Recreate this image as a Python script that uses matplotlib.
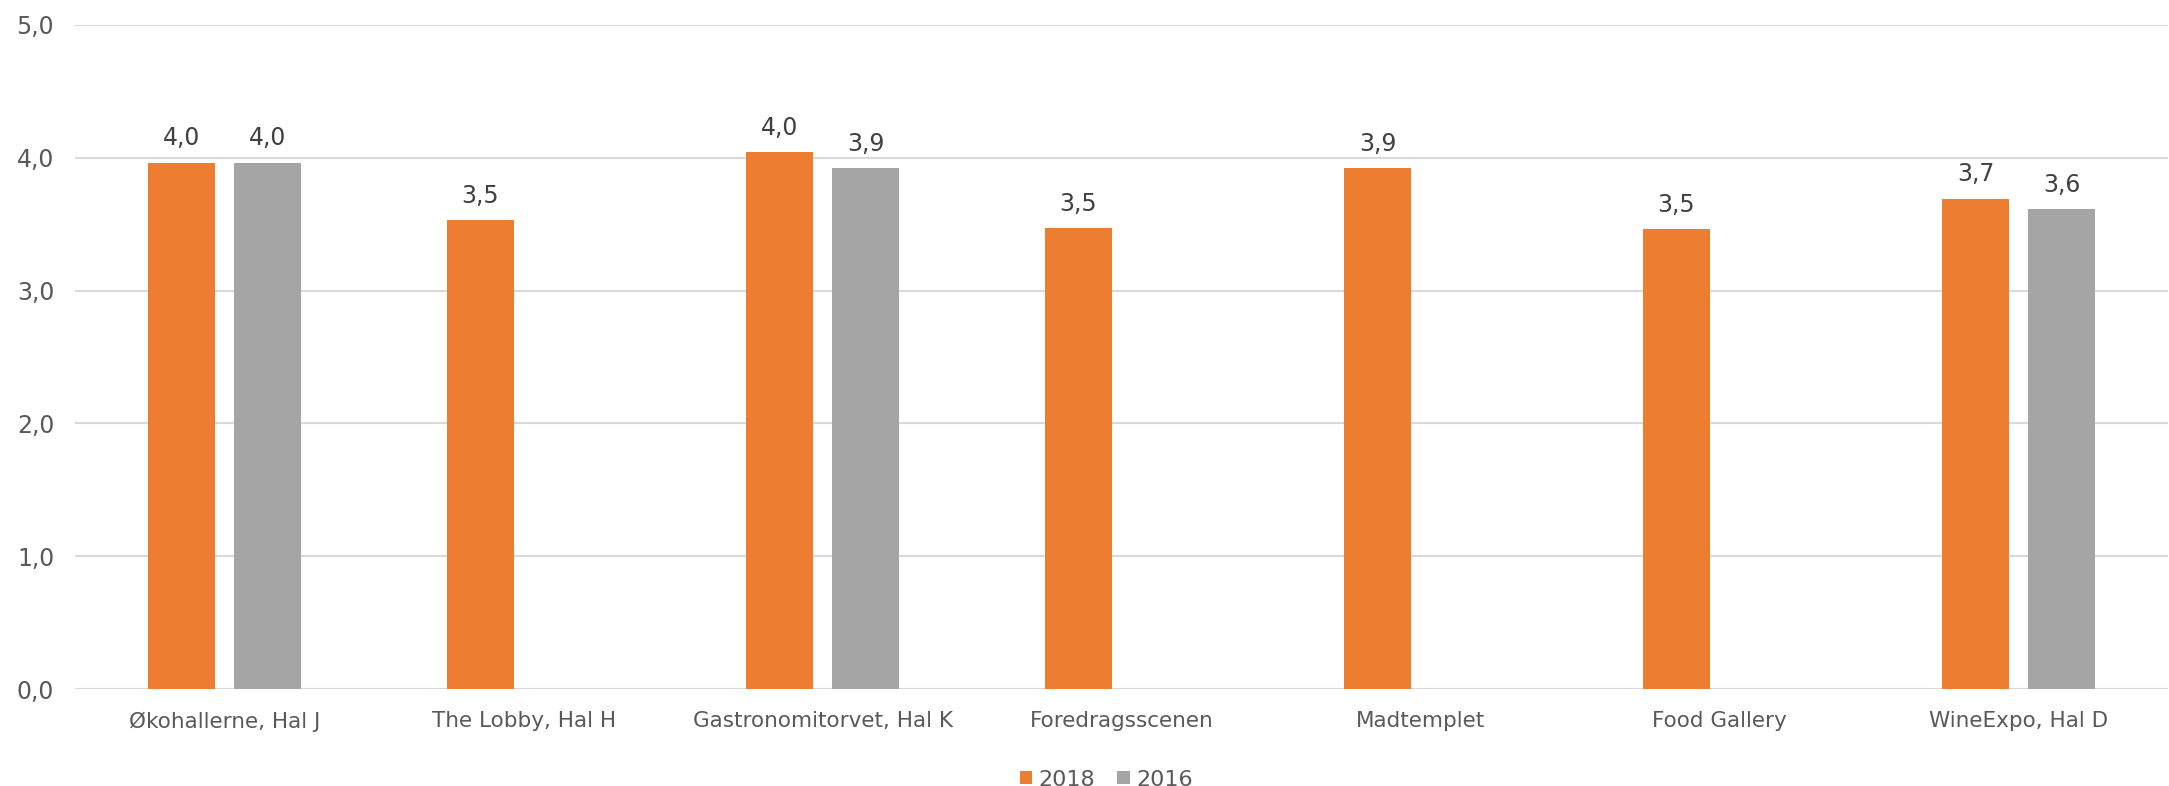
import matplotlib.pyplot as plt
import numpy as np

categories = ['Økohallerne, Hal J', 'The Lobby, Hal H', 'Gastronomitorvet, Hal K',
              'Foredragsscenen', 'Madtemplet', 'Food Gallery', 'WineExpo, Hal D']
v2018 = [3.96, 3.53, 4.04, 3.47, 3.92, 3.46, 3.69]
v2016 = [3.96, np.nan, 3.92, np.nan, np.nan, np.nan, 3.61]
yticks = [0, 1, 2, 3, 4, 5]

orange = '#ED7D31'
grey = '#A5A5A5'
txt = '#595959'

plt.rcParams['font.family'] = ['DejaVu Sans']

fig = plt.figure(figsize=(21.69, 7.86), dpi=100)
ax = fig.add_axes([0.0346, 0.1234, 0.965, 0.845])

x = np.arange(len(categories))
w = 0.224
off = 0.144
b1 = ax.bar(x - off, v2018, w, color=orange, label='2018', zorder=3)
b2 = ax.bar(x + off, v2016, w, color=grey, label='2016', zorder=3)

# data labels
for bars, vals in ((b1, v2018), (b2, v2016)):
    for rect, v in zip(bars, vals):
        if np.isnan(v):
            continue
        ax.annotate(('%.1f' % v).replace('.', ','),
                    (rect.get_x() + rect.get_width() / 2, v),
                    xytext=(0, 9), textcoords='offset points',
                    ha='center', va='bottom', fontsize=17, color='#404040')

ax.set_xlim(-0.5, len(categories) - 0.5)
ax.set_ylim(0, 5)
ax.set_yticks(yticks)
ax.set_yticklabels([('%.1f' % t).replace('.', ',') for t in yticks])
ax.set_xticks(x)
ax.set_xticklabels(categories)
ax.tick_params(axis='y', length=0, pad=15, labelsize=17, labelcolor=txt)
ax.tick_params(axis='x', length=0, pad=16, labelsize=15.5, labelcolor=txt)
ax.grid(axis='y', color='#D9D9D9', linewidth=1.5, zorder=0)
for s in ax.spines.values():
    s.set_visible(False)

fig.legend(loc='lower center', bbox_to_anchor=(0.51, -0.03), ncol=2, frameon=False,
           fontsize=16, labelcolor=txt, handlelength=0.55, handleheight=0.55,
           handletextpad=0.3, columnspacing=1.0)

plt.savefig('out.png', dpi=100)
